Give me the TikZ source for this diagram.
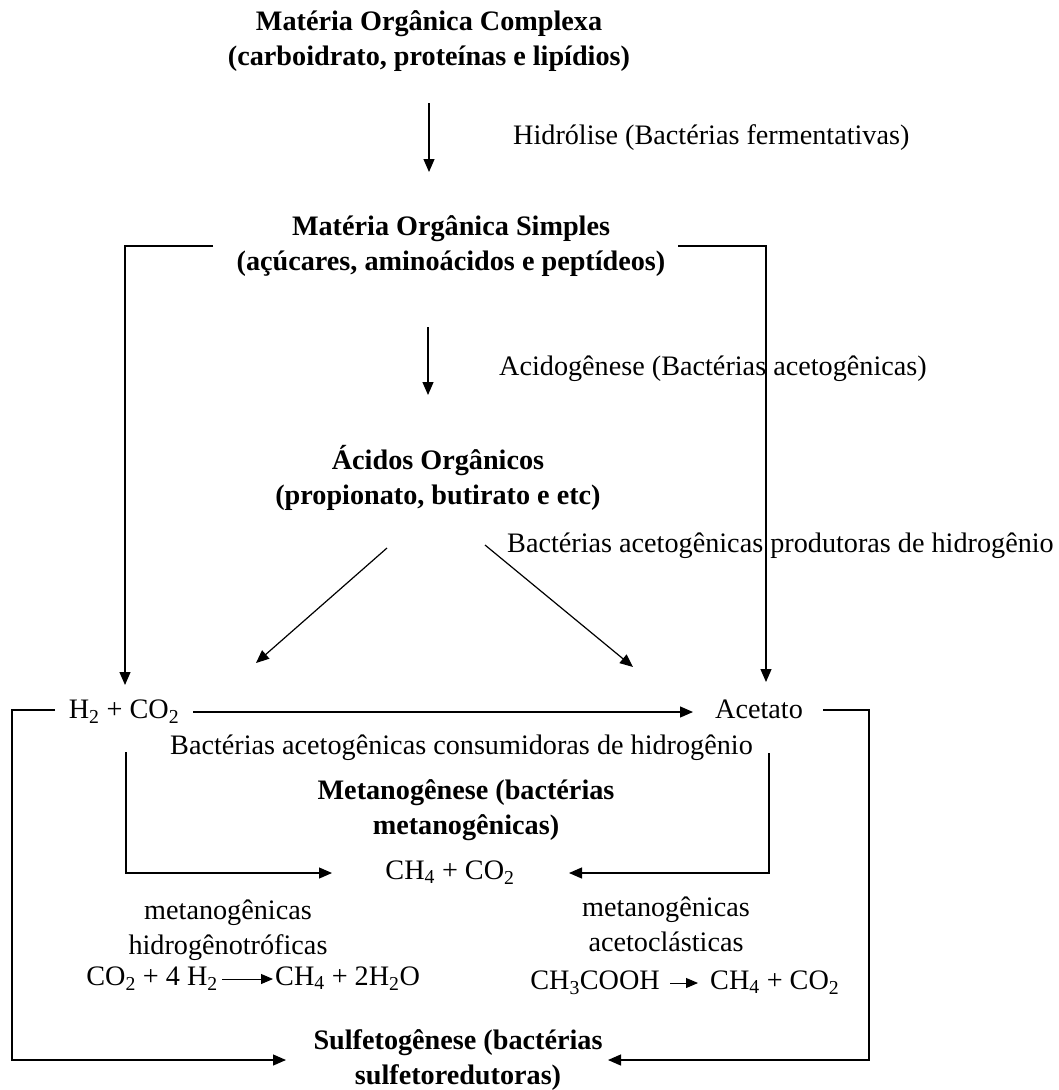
\documentclass[tikz,border=0pt]{standalone}
\usepackage{fontspec}
\setmainfont{Liberation Serif}
\usetikzlibrary{arrows.meta}
\begin{document}
\begin{tikzpicture}[x=1pt,y=-1pt,
  every node/.style={inner sep=0pt, font=\fontsize{28.2}{35}\selectfont},
  hd/.style={align=center, font=\fontsize{28.2}{35}\selectfont\bfseries},
  lb/.style={align=center},
  txt/.style={text height=20pt, text depth=7pt},
  arr/.style={line width=1.2pt, -{Triangle[length=13pt,width=11pt]}},
  eqarr/.style={line width=1pt, -{Triangle[length=12pt,width=10pt]}, shorten <=4pt}]
\useasboundingbox (0,0) rectangle (1058,1090);

\node[hd] (complexa) at (429,41) {Matéria Orgânica Complexa\\(carboidrato, proteínas e lipídios)};
\node[txt, anchor=west] (hidrolise) at (513,138) {Hidrólise (Bactérias fermentativas)};
\node[hd] (simples) at (451,246) {Matéria Orgânica Simples\\(açúcares, aminoácidos e peptídeos)};
\node[txt, anchor=west] (acidog) at (499,369) {Acidogênese (Bactérias acetogênicas)};
\node[hd] (acidos) at (438,478) {Ácidos Orgânicos\\(propionato, butirato e etc)};
\node[txt, anchor=west] (prodH) at (507,546) {Bactérias acetogênicas produtoras de hidrogênio};
\node[txt] (h2co2) at (124,712) {H\textsubscript{2} + CO\textsubscript{2}};
\node[txt] (acetato) at (759,712) {Acetato};
\node[txt, anchor=west] (consH) at (170,748) {Bactérias acetogênicas consumidoras de hidrogênio};
\node[hd] (metano) at (466,810) {Metanogênese (bactérias\\metanogênicas)};
\node[txt] (ch4co2) at (450,873) {CH\textsubscript{4} + CO\textsubscript{2}};
\node[lb] (hidrotrof) at (228,930) {metanogênicas\\hidrogênotróficas};
\node[txt, anchor=east] (eqLa) at (218,979) {CO\textsubscript{2} + 4 H\textsubscript{2}};
\node[txt, anchor=west] (eqLb) at (275,979) {CH\textsubscript{4} + 2H\textsubscript{2}O};
\node[lb] (acetocl) at (666,924) {metanogênicas\\acetoclásticas};
\node[txt, anchor=east] (eqRa) at (660,983) {CH\textsubscript{3}COOH};
\node[txt, anchor=west] (eqRb) at (710,983) {CH\textsubscript{4} + CO\textsubscript{2}};
\node[hd] (sulfeto) at (458,1060) {Sulfetogênese (bactérias\\sulfetoredutoras)};

% main vertical steps
\draw[arr, shorten <=62pt, shorten >=74pt] (complexa.center) -- (complexa.center |- simples.center);
\draw[arr, shorten <=81pt, shorten >=83pt] ([shift={(-23,0)}]simples.center) -- ([shift={(-23,0)}]simples.center |- acidos.center);

% side branches from simples
\draw[arr, shorten >=27pt] ([shift={(-238,0)}]simples.center) -| ([shift={(1,0)}]h2co2.center);
\draw[arr, shorten >=30pt] ([shift={(227,0)}]simples.center) -| ([shift={(7,0)}]acetato.center);

% diagonals from acidos
\draw[arr] ([shift={(-51,70)}]acidos.center) -- ([shift={(132,-49)}]h2co2.center);
\draw[arr] ([shift={(47,67)}]acidos.center) -- ([shift={(-126,-45)}]acetato.center);

% h2 -> acetato
\draw[arr, shorten <=69pt, shorten >=66pt] (h2co2.center) -- (acetato.center);

% to methane
\draw[arr] ([shift={(2,40)}]h2co2.center) |- ([shift={(-118,0)}]ch4co2.center);
\draw[arr] ([shift={(10,41)}]acetato.center) |- ([shift={(119,0)}]ch4co2.center);

% to sulfetogenese
\draw[arr] ([shift={(-69,-2)}]h2co2.center) -- ++(-43,0) |- ([shift={(-172,0)}]sulfeto.center);
\draw[arr] ([shift={(64,-2)}]acetato.center) -- ++(46,0) |- ([shift={(150,0)}]sulfeto.center);

% equation arrows
\draw[eqarr, shorten >=2pt] (eqLa.east) -- (eqLb.west);
\draw[eqarr, shorten >=12pt] ([shift={(6,0)}]eqRa.east) -- (eqRb.west);
\end{tikzpicture}
\end{document}
